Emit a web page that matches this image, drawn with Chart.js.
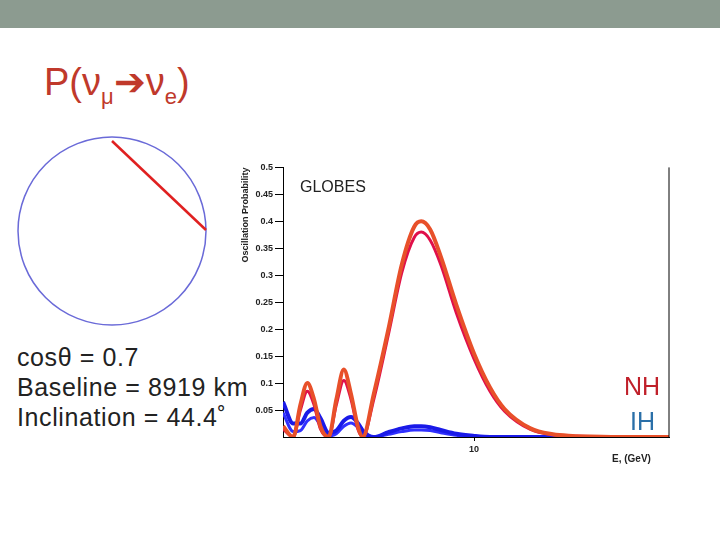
<!DOCTYPE html>
<html><head><meta charset="utf-8">
<script src="https://cdn.jsdelivr.net/npm/chart.js@4"></script>
<style>
body{margin:0;width:720px;height:540px;position:relative;background:#fff;font-family:"Liberation Sans",Arial,sans-serif;overflow:hidden}
.t{position:absolute;white-space:nowrap}
</style></head><body>
<div style="position:absolute;left:0;top:0;width:720px;height:28px;background:#8c9b90"></div>
<div class="t" style="left:44px;top:60px;font-size:38px;color:#c0392b">P(ν<sub style="font-size:22px">μ</sub>➔ν<sub style="font-size:22px">e</sub>)</div>
<svg style="position:absolute;left:0;top:130px" width="240" height="200">
<circle cx="112" cy="101" r="94" fill="none" stroke="#6a6ad8" stroke-width="1.5"/>
<line x1="112" y1="11" x2="206" y2="100" stroke="#e02020" stroke-width="2.5"/>
</svg>
<div class="t" style="left:17px;top:342px;font-size:25px;letter-spacing:0.6px;color:#222;line-height:30px">cosθ = 0.7<br>Baseline = 8919 km<br>Inclination = 44.4˚</div>
<div style="position:absolute;left:240px;top:160px;width:440px;height:310px"><canvas id="c"></canvas></div>
<div class="t" style="left:300px;top:178px;font-size:16px;color:#222">GLOBES</div>
<div class="t" style="left:624px;top:372px;font-size:25px;color:#c0202a">NH</div>
<div class="t" style="left:630px;top:407px;font-size:25px;color:#2a6fa8">IH</div>
<div class="t" style="left:612px;top:453px;font-size:10px;font-weight:bold;color:#222">E, (GeV)</div>
<script>
const energies = [3.2,3.4,3.55,3.7,3.85,4.0,4.2,4.4,4.6,4.8,5.0,5.15,5.5,6,6.5,7,7.3,7.7,8.2,9,10,11,12,14,16,18,20,25,32];
const nhHigh = [0.02,0,0.06,0.1,0.07,0.02,0,0.07,0.125,0.08,0.02,0,0.08,0.2,0.32,0.39,0.4,0.385,0.335,0.245,0.155,0.092,0.052,0.016,0.005,0.002,0.001,0,0];
const nhLow = [0.015,0,0.05,0.085,0.06,0.015,0,0.06,0.105,0.07,0.015,0,0.07,0.19,0.305,0.37,0.38,0.365,0.32,0.23,0.145,0.085,0.048,0.014,0.004,0.002,0.001,0,0];
const ihHigh = [0.065,0.025,0.025,0.045,0.052,0.035,0.008,0.012,0.03,0.037,0.026,0.012,0,0.009,0.016,0.02,0.02,0.018,0.013,0.006,0.002,0,0,0,0,0,0,0,0];
const ihLow = [0.045,0.01,0.012,0.03,0.036,0.022,0.002,0.006,0.02,0.026,0.018,0.006,0,0.005,0.01,0.013,0.013,0.012,0.008,0.003,0.001,0,0,0,0,0,0,0,0];
const yTicks = [0.05,0.1,0.15,0.2,0.25,0.3,0.35,0.4,0.45,0.5];

function pts(v){return energies.map((e,i)=>({x:e,y:v[i]}));}
const tickFont={size:9,weight:'bold',family:'Liberation Sans'};
new Chart(document.getElementById('c'),{
  type:'line',
  data:{datasets:[
    {data:pts(nhHigh),borderColor:'#e8502a',borderWidth:4},
    {data:pts(nhLow),borderColor:'#e0104a',borderWidth:3},
    {data:pts(ihHigh),borderColor:'#1a1ae8',borderWidth:4},
    {data:pts(ihLow),borderColor:'#3030ff',borderWidth:3}
  ]},
  options:{
    responsive:true,maintainAspectRatio:false,animation:false,
    layout:{padding:{top:7,right:11}},
    elements:{point:{radius:0},line:{tension:0.4,cubicInterpolationMode:'monotone'}},
    plugins:{legend:{display:false},tooltip:{enabled:false}},
    scales:{
      x:{type:'logarithmic',min:3.2,max:32,
        afterBuildTicks:a=>{a.ticks=[{value:10}];},
        afterFit:a=>{a.height=33;},
        grid:{drawOnChartArea:false,color:'#000',tickLength:4},
        border:{color:'#000'},
        ticks:{font:tickFont,color:'#222',callback:v=>v}},
      y:{min:0,max:0.5,
        afterBuildTicks:a=>{a.ticks=yTicks.map(v=>({value:v}));},
        afterFit:a=>{a.width=43;},
        grid:{drawOnChartArea:false,color:'#000',tickLength:8},
        border:{color:'#000'},
        title:{display:true,text:'Oscillation Probability',align:'end',font:tickFont,color:'#222',padding:0},
        ticks:{font:tickFont,color:'#222',padding:2,callback:v=>String(Number(v.toFixed(2)))}}
    }
  },
  plugins:[{id:'frame',afterDraw(ch){const a=ch.chartArea,c=ch.ctx;c.save();c.strokeStyle='#000';c.lineWidth=1;c.beginPath();c.moveTo(a.right,a.top);c.lineTo(a.right,a.bottom);c.stroke();c.restore();}}]
});
</script>
</body></html>
